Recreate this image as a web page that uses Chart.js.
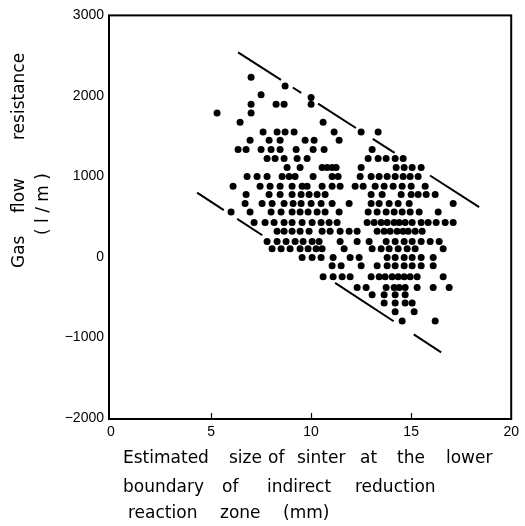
<!DOCTYPE html>
<html>
<head>
<meta charset="utf-8">
<script src="https://cdn.jsdelivr.net/npm/chart.js@4.4.0/dist/chart.umd.min.js"></script>
<style>
body{margin:0;background:#fff;}
</style>
</head>
<body>
<canvas id="sinterChart" width="525" height="526"></canvas>
<script>
// gas flow resistance (1/m), one value per row of dots
var levels = [2233, 2122, 2016, 1980, 1898, 1788, 1673, 1551, 1449, 1335, 1224, 1110, 1000, 878, 776, 665, 559, 429, 318, 192, 102, -8, -110, -245, -380, -469, -571, -682, -796];
// estimated sinter size (mm) of each dot in the matching row
var sizes = [
	[7.0],
	[8.7],
	[7.5],
	[10.0],
	[7.0, 8.25, 8.65, 10.0],
	[5.3, 7.0],
	[6.45, 10.6],
	[7.6, 8.3, 8.7, 9.15, 11.15, 12.5, 13.35],
	[6.95, 7.9, 8.45, 9.7, 10.15, 11.4],
	[6.35, 6.75, 7.5, 8.0, 8.45, 9.25, 10.1, 10.65, 13.05],
	[7.8, 8.2, 8.65, 9.3, 9.8, 12.85, 13.35, 13.75, 14.2, 14.6],
	[8.8, 9.45, 10.55, 10.8, 11.05, 11.25, 12.5, 14.25, 14.65, 15.05, 15.5],
	[6.8, 7.3, 7.8, 8.55, 8.9, 9.2, 10.1, 11.05, 11.35, 12.45, 13.0, 13.4, 13.8, 14.2, 14.6, 14.95, 15.35],
	[6.1, 7.45, 7.95, 8.45, 9.05, 9.55, 9.8, 10.55, 11.05, 11.45, 12.2, 12.6, 13.2, 13.65, 14.1, 14.55, 15.0, 15.7],
	[6.75, 7.9, 8.45, 9.05, 9.5, 9.9, 10.3, 10.7, 13.0, 13.55, 14.5, 15.0, 15.35, 15.75, 16.2],
	[6.7, 7.55, 8.05, 8.65, 9.1, 9.5, 10.0, 10.5, 11.05, 11.9, 13.0, 13.4, 13.9, 14.35, 14.9, 17.1],
	[6.0, 6.95, 8.0, 8.5, 9.05, 9.45, 9.85, 10.3, 10.7, 11.4, 12.85, 13.3, 13.75, 14.15, 14.55, 14.95, 15.4, 16.35],
	[7.15, 7.7, 8.15, 8.65, 9.05, 9.55, 10.05, 10.5, 10.9, 11.3, 12.8, 13.15, 13.5, 13.8, 14.15, 14.4, 14.7, 15.05, 15.5, 15.85, 16.25, 16.7, 17.1],
	[8.3, 8.65, 9.05, 9.45, 9.9, 10.55, 10.95, 11.45, 11.9, 12.3, 13.3, 13.65, 13.95, 14.3, 14.6, 14.85, 15.2, 15.55],
	[7.8, 8.3, 8.75, 9.2, 9.6, 10.05, 10.4, 11.45, 12.3, 12.9, 13.75, 14.2, 14.65, 15.05, 15.5, 15.95, 16.4],
	[8.05, 8.5, 8.95, 9.45, 9.85, 10.25, 10.55, 11.65, 13.05, 13.5, 13.9, 14.35, 14.8, 15.2, 16.6],
	[9.55, 10.05, 10.5, 11.1, 11.95, 12.4, 13.8, 14.2, 14.65, 15.05, 15.5, 16.1],
	[11.05, 11.5, 12.5, 13.3, 13.8, 14.2, 14.65, 15.05, 15.5, 16.1],
	[10.6, 11.1, 11.55, 11.95, 13.0, 13.4, 13.7, 14.05, 14.35, 14.65, 14.95, 15.3, 16.6],
	[12.3, 12.75, 13.75, 14.15, 14.4, 14.7, 15.3, 16.1, 16.9],
	[13.05, 13.65, 14.2, 14.7],
	[13.65, 14.2, 14.7, 15.05],
	[14.2, 15.15],
	[14.55, 16.2]
];
// dashed boundary lines
var upperX = [6.35, 18.4];
var upperY = [2540, 620];
var lowerX = [4.3, 16.5];
var lowerY = [800, -1185];
// axis ticks
var xTicks = [0, 5, 10, 15, 20];
var yTicks = [-2000, -1000, 0, 1000, 2000, 3000];

var points = [];
for (var i in levels) {
	for (var j in sizes[i]) {
		points.push({x: sizes[i][j], y: levels[i]});
	}
}
function pairs(xs, ys) {
	var out = [];
	for (var k = 0; k < xs.length; k++) out.push({x: xs[k], y: ys[k]});
	return out;
}

var titleFont = "17px 'DejaVu Sans', sans-serif";

// frame, inner ticks and the axis captions
var frameAndTitles = {
	id: 'frameAndTitles',
	afterDraw: function(chart) {
		var ctx = chart.ctx, a = chart.chartArea, sx = chart.scales.x;
		ctx.save();
		ctx.strokeStyle = '#000';
		ctx.lineWidth = 2;
		ctx.strokeRect(a.left - 2, a.top, a.right - a.left + 2, a.bottom - a.top + 1);
		ctx.lineWidth = 1.2;
		xTicks.slice(1, -1).forEach(function(v) {
			var px = Math.round(sx.getPixelForValue(v)) + 0.5;
			ctx.beginPath();
			ctx.moveTo(px, a.bottom);
			ctx.lineTo(px, a.bottom - 5);
			ctx.stroke();
		});

		ctx.fillStyle = '#000';
		ctx.font = titleFont;
		ctx.textAlign = 'left';
		ctx.textBaseline = 'alphabetic';
		var xWords = [
			['Estimated', 123, 463], ['size', 229, 463], ['of', 268, 463], ['sinter', 297, 463],
			['at', 360, 463], ['the', 397, 463], ['lower', 446, 463],
			['boundary', 123, 492], ['of', 222, 492], ['indirect', 267, 492], ['reduction', 355, 492],
			['reaction', 128, 518], ['zone', 220, 518], ['(mm)', 283, 518]
		];
		xWords.forEach(function(w) {
			ctx.fillText(w[0], w[1], w[2]);
		});

		ctx.textBaseline = 'middle';
		var yWords = [['Gas', 20, 268], ['flow', 20, 213], ['resistance', 20, 140], ['( l / m )', 44, 235]];
		yWords.forEach(function(w) {
			ctx.save();
			ctx.translate(w[1], w[2]);
			ctx.rotate(-Math.PI / 2);
			ctx.fillText(w[0], 0, 0);
			ctx.restore();
		});
		ctx.restore();
	}
};

var tickFont = {family: "'Liberation Sans', sans-serif", size: 14};

var ctx = document.getElementById('sinterChart');
var chart = new Chart(ctx, {
	type: 'scatter',
	data: {
		datasets: [
			{
				label: 'Gas flow resistance',
				data: points,
				pointRadius: 3.5,
				pointBackgroundColor: '#000',
				pointBorderWidth: 0
			},
			{
				label: 'upper bound',
				data: pairs(upperX, upperY),
				showLine: true,
				borderColor: '#000',
				borderWidth: 2,
				borderDash: [51, 14, 10, 20, 45, 20, 26, 42, 63],
				pointRadius: 0
			},
			{
				label: 'lower bound',
				data: pairs(lowerX, lowerY),
				showLine: true,
				borderColor: '#000',
				borderWidth: 2,
				borderDash: [32, 16, 30, 87, 70, 24, 38],
				pointRadius: 0
			}
		]
	},
	options: {
		responsive: false,
		animation: false,
		layout: {padding: {top: 10, right: 8, left: 0, bottom: 0}},
		plugins: {
			legend: {display: false},
			tooltip: {enabled: false}
		},
		scales: {
			x: {
				type: 'linear',
				min: 0,
				max: 20,
				grid: {display: false, drawTicks: false},
				border: {display: false},
				afterFit: function(s) { s.height = 108; },
				afterBuildTicks: function(s) { s.ticks = xTicks.map(function(v) { return {value: v}; }); },
				ticks: {color: '#000', font: tickFont, padding: 6, maxRotation: 0}
			},
			y: {
				type: 'linear',
				min: -2000,
				max: 3000,
				grid: {display: false, drawTicks: false},
				border: {display: false},
				afterFit: function(s) { s.width = 111; },
				afterBuildTicks: function(s) { s.ticks = yTicks.map(function(v) { return {value: v}; }); },
				ticks: {
					color: '#000',
					font: tickFont,
					padding: 7,
					callback: function(v) { return v < 0 ? '\u2212' + Math.abs(v) : String(v); }
				}
			}
		}
	},
	plugins: [frameAndTitles]
});
</script>
</body>
</html>
